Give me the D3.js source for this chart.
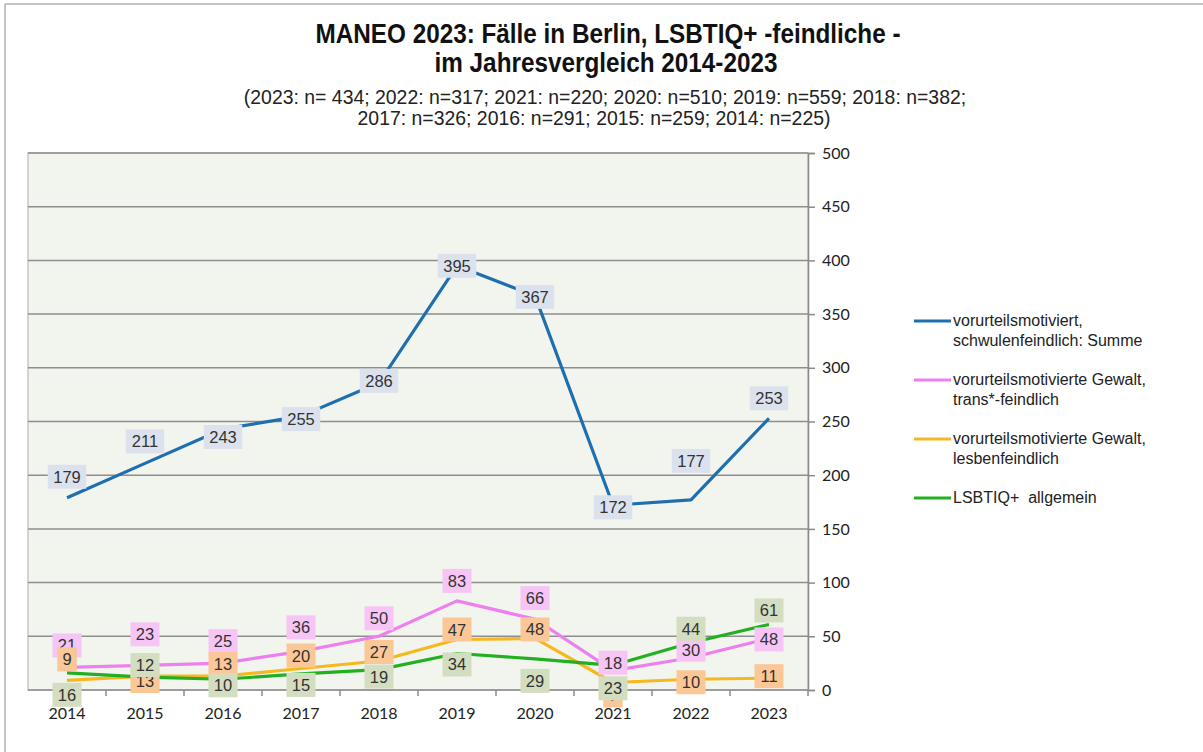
<!DOCTYPE html>
<html>
<head>
<meta charset="utf-8">
<script src="https://cdn.jsdelivr.net/npm/d3@7"></script>
<style>
  body { margin: 0; background: #fff; }
  .title { font-family: "Liberation Sans", Arial, sans-serif; font-weight: bold; font-size: 27px; fill: #111; }
  .subtitle { font-family: "Liberation Sans", Arial, sans-serif; font-size: 21px; fill: #222; }
  .axis text { font-family: Lato, "Liberation Sans", sans-serif; font-size: 16px; fill: #222; }
  .legend text { font-family: "Liberation Sans", Arial, sans-serif; font-size: 16px; fill: #222; }
  .lbl { font-family: "Liberation Sans", Arial, sans-serif; font-size: 16.5px; fill: #333; }
</style>
</head>
<body>
<div id="chart"></div>
<script>
// data
var years = ["2014", "2015", "2016", "2017", "2018", "2019", "2020", "2021", "2022", "2023"];
var schwul = [179, 211, 243, 255, 286, 395, 367, 172, 177, 253];
var trans = [21, 23, 25, 36, 50, 83, 66, 18, 30, 48];
var lesben = [9, 13, 13, 20, 27, 47, 48, 7, 10, 11];
var allgemein = [16, 12, 10, 15, 19, 34, 29, 23, 44, 61];
var yTicks = [0, 50, 100, 150, 200, 250, 300, 350, 400, 450, 500];

var seriesNames = [
  ["vorurteilsmotiviert,", "schwulenfeindlich: Summe"],
  ["vorurteilsmotivierte Gewalt,", "trans*-feindlich"],
  ["vorurteilsmotivierte Gewalt,", "lesbenfeindlich"],
  ["LSBTIQ+  allgemein"]
];

// label offsets (px, relative to point) so boxes sit like in the original
var labelDy = [
  [-21, -22, 8, 3, -2, 0, 1, 2, -39, -20],
  [-22, -31, -22, -24, -18, -20, -21, -8, -8, 1],
  [-21, 5, -12, -13, -9, -10, -9, 13, 3, -2],
  [22, -12, 6, 11, 7, 11, 22, 23, -14, -14]
];

var colors = ["#1f6fb0", "#ee7fee", "#f6b820", "#22b022"];
var boxFill = ["#dbe2ee", "#f6c5f6", "#fbc797", "#d3ddc0"];

var series = [schwul, trans, lesben, allgemein];

var width = 1203, height = 752;
var plotLeft = 28, plotRight = 808, plotTop = 153, plotBottom = 690;

var svg = d3.select("#chart").append("svg")
  .attr("width", width)
  .attr("height", height);

// outer frame
svg.append("line").attr("x1", 5).attr("x2", width).attr("y1", 4).attr("y2", 4)
  .attr("stroke", "#c4c4c4").attr("stroke-width", 2);
svg.append("line").attr("x1", 5).attr("x2", 5).attr("y1", 4).attr("y2", height)
  .attr("stroke", "#c4c4c4").attr("stroke-width", 2);

// titles (narrow look: squeeze horizontally)
function narrowText(cls, cx, cy, sx, txt) {
  svg.append("text").attr("class", cls)
    .attr("transform", "translate(" + cx + "," + cy + ") scale(" + sx + ",1)")
    .attr("text-anchor", "middle").text(txt);
}
narrowText("title", 608, 43, 0.9, "MANEO 2023: Fälle in Berlin, LSBTIQ+ -feindliche -");
narrowText("title", 606, 72, 0.9, "im Jahresvergleich 2014-2023");
narrowText("subtitle", 605, 104, 0.925, "(2023: n= 434; 2022: n=317; 2021: n=220; 2020: n=510; 2019: n=559; 2018: n=382;");
narrowText("subtitle", 594, 125, 0.925, "2017: n=326; 2016: n=291; 2015: n=259; 2014: n=225)");

var x = d3.scalePoint().domain(years).range([plotLeft, plotRight]).padding(0.5);
var xb = d3.scaleBand().domain(years).range([plotLeft, plotRight]);
var y = d3.scaleLinear().domain([0, 500]).range([plotBottom, plotTop]);

// plot background
svg.append("rect").attr("x", plotLeft).attr("y", plotTop)
  .attr("width", plotRight - plotLeft).attr("height", plotBottom - plotTop)
  .attr("fill", "#f2f5ee").attr("stroke", "#c8c8c8").attr("stroke-width", 1.5);

// grid lines
svg.append("g").selectAll("line").data(yTicks.slice(1)).join("line")
  .attr("x1", plotLeft).attr("x2", plotRight)
  .attr("y1", d => y(d)).attr("y2", d => y(d))
  .attr("stroke", "#8e8e8e").attr("stroke-width", 1.5);

// right axis
var yAxis = svg.append("g").attr("class", "axis")
  .attr("transform", "translate(" + plotRight + ",0)")
  .call(d3.axisRight(y).tickValues(yTicks).tickSize(7).tickPadding(7));
yAxis.select(".domain").attr("stroke", "#8a8a8a").attr("stroke-width", 1.5);
yAxis.selectAll(".tick line").attr("stroke", "#8a8a8a").attr("stroke-width", 1.5);

// bottom axis, ticks between categories
var xg = svg.append("g").attr("class", "axis");
xg.append("line").attr("x1", plotLeft).attr("x2", plotRight).attr("y1", plotBottom).attr("y2", plotBottom)
  .attr("stroke", "#8a8a8a").attr("stroke-width", 1.5);
xg.selectAll("line.tk").data(years).join("line")
  .attr("class", "tk")
  .attr("x1", d => xb(d) + xb.bandwidth())
  .attr("x2", d => xb(d) + xb.bandwidth())
  .attr("y1", plotBottom).attr("y2", plotBottom + 6)
  .attr("stroke", "#8a8a8a").attr("stroke-width", 1.5);
xg.selectAll("text").data(years).join("text")
  .attr("x", d => x(d)).attr("y", 719)
  .attr("text-anchor", "middle").text(d => d);

// lines
var line = d3.line().x((d, i) => x(years[i])).y(d => y(d));
svg.append("g").selectAll("path").data(series).join("path")
  .attr("d", d => line(d))
  .attr("fill", "none")
  .attr("stroke", (d, i) => colors[i])
  .attr("stroke-width", 3.2)
  .attr("stroke-linejoin", "round");

// data labels
series.forEach(function(s, si) {
  var g = svg.append("g");
  s.forEach(function(v, i) {
    var cx = x(years[i]);
    var cy = y(v) + labelDy[si][i];
    var t = String(v);
    var w = t.length * 9.5 + 10;
    var lg = g.append("g").attr("transform", "translate(" + cx + "," + cy + ")");
    lg.append("rect").attr("x", -w / 2).attr("y", -12).attr("width", w).attr("height", 24)
      .attr("fill", boxFill[si]);
    lg.append("text").attr("class", "lbl").attr("text-anchor", "middle")
      .attr("y", 6).text(t);
  });
});

// legend
var legend = svg.append("g").attr("class", "legend");
var legendY = [321, 380, 439, 498];
seriesNames.forEach(function(lines, i) {
  legend.append("line").attr("x1", 914).attr("x2", 951)
    .attr("y1", legendY[i]).attr("y2", legendY[i])
    .attr("stroke", colors[i]).attr("stroke-width", 3.2);
  lines.forEach(function(l, j) {
    legend.append("text").attr("x", 953).attr("y", legendY[i] + 5 + j * 20)
      .attr("xml:space", "preserve").style("white-space", "pre").text(l);
  });
});
</script>
</body>
</html>
